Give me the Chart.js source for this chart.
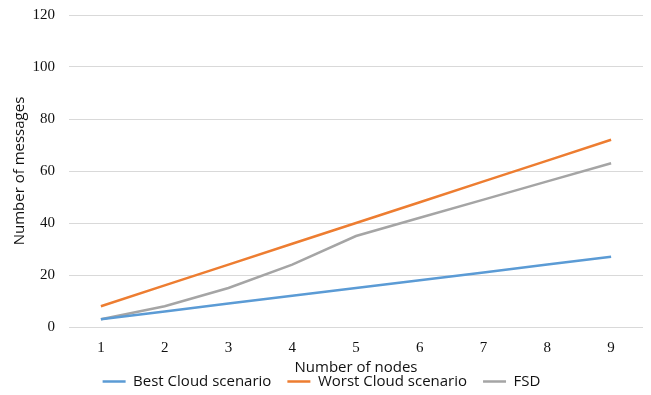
<!DOCTYPE html>
<html>
<head>
<meta charset="utf-8">
<script src="https://cdn.jsdelivr.net/npm/chart.js@4/dist/chart.umd.min.js"></script>
<style>
  html, body { margin: 0; padding: 0; background: #fff; }
  #wrap { width: 651px; height: 395px; }
</style>
</head>
<body>
<div id="wrap"><canvas id="chart" width="651" height="395"></canvas></div>
<script>
// nodes on the x axis
const nodes = ['1', '2', '3', '4', '5', '6', '7', '8', '9'];

// messages exchanged per scenario
const bestCloud = [3, 6, 9, 12, 15, 18, 21, 24, 27];
const worstCloud = [8, 16, 24, 32, 40, 48, 56, 64, 72];
const fsd = [3, 8, 15, 24, 35, 42, 49, 56, 63];

const serif = "'Liberation Serif', 'Times New Roman', serif";
const sans = "'Open Sans', 'Liberation Sans', sans-serif";

function line(label, data, color) {
  return {
    label: label,
    data: data,
    borderColor: color,
    backgroundColor: color,
    borderWidth: 2.5,
    pointRadius: 0,
    pointHoverRadius: 0,
    tension: 0,
    fill: false
  };
}

new Chart(document.getElementById('chart'), {
  type: 'line',
  data: {
    labels: nodes,
    datasets: [
      line('Best Cloud scenario', bestCloud, '#5B9BD5'),
      line('Worst Cloud scenario', worstCloud, '#ED7D31'),
      line('FSD', fsd, '#A5A5A5')
    ]
  },
  options: {
    responsive: false,
    animation: false,
    layout: { padding: { top: 15, right: 8, left: 0, bottom: -4 } },
    plugins: {
      tooltip: { enabled: false },
      legend: {
        position: 'bottom',
        labels: {
          usePointStyle: true,
          pointStyle: 'line',
          pointStyleWidth: 23,
          boxHeight: 3,
          padding: 16,
          color: '#111',
          font: { family: sans, size: 15 }
        }
      }
    },
    scales: {
      x: {
        offset: true,
        grid: { display: false },
        border: { display: false },
        ticks: { color: '#111', font: { family: serif, size: 15 }, padding: 4 },
        title: {
          display: true,
          text: 'Number of nodes',
          color: '#111',
          font: { family: sans, size: 15 },
          padding: { top: 0, bottom: -19 }
        },
        afterFit: function (scale) { scale.height = 31; }
      },
      y: {
        min: 0,
        max: 120,
        ticks: { stepSize: 20, color: '#111', font: { family: serif, size: 15 }, padding: 14 },
        grid: { color: '#d9d9d9', lineWidth: 1, drawTicks: false },
        border: { display: false },
        title: {
          display: true,
          text: 'Number of messages',
          color: '#111',
          font: { family: sans, size: 15 },
          padding: { top: 11, bottom: 0 }
        },
        afterFit: function (scale) {
          scale.width = 69;
          // the top label may overflow into the layout padding
          scale.paddingTop = 0;
        }
      }
    }
  }
});
</script>
</body>
</html>
